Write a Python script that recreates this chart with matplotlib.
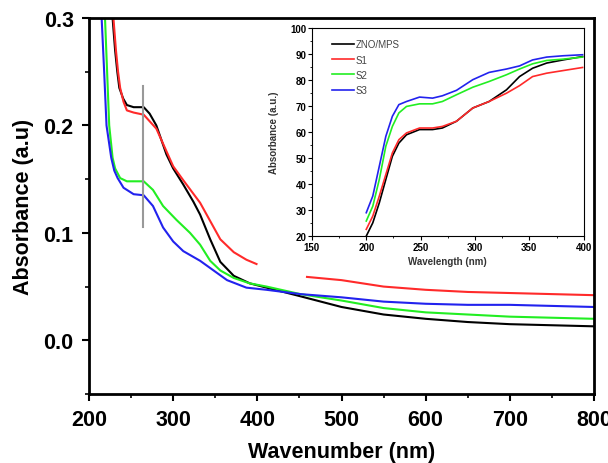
import numpy as np
import matplotlib.pyplot as plt
from matplotlib.ticker import MultipleLocator

plt.rcParams['font.family'] = ['Liberation Sans', 'DejaVu Sans']

# main spectra (nm, absorbance)
wl_black = [228, 231, 233.6, 236, 240.6, 245, 253, 265, 272, 280, 292, 300, 312, 324, 332,
            344, 356, 372, 391, 411, 451, 500, 550, 600, 650, 700, 750, 800]
ab_black = [0.30, 0.27, 0.25, 0.235, 0.225, 0.219, 0.217, 0.217, 0.211, 0.200, 0.173, 0.160,
            0.145, 0.129, 0.117, 0.094, 0.073, 0.060, 0.053, 0.049, 0.041, 0.031, 0.024,
            0.020, 0.017, 0.015, 0.014, 0.013]

wl_red = [229, 232, 234.5, 237, 241, 245, 253, 265, 280, 300, 312, 332, 344, 356, 372, 387,
          399, 430, 459, 500, 550, 600, 650, 700, 750, 800]
ab_red = [0.30, 0.27, 0.25, 0.235, 0.222, 0.214, 0.212, 0.210, 0.197, 0.162, 0.149, 0.128,
          0.111, 0.094, 0.082, 0.075, 0.071, np.nan, 0.059, 0.056, 0.050, 0.047, 0.045,
          0.044, 0.043, 0.042]

wl_green = [219, 221.5, 224, 228, 231, 237, 245, 265, 276, 288, 304, 320, 332, 344, 356, 372,
            391, 411, 451, 500, 550, 600, 650, 700, 750, 800]
ab_green = [0.30, 0.25, 0.20, 0.17, 0.16, 0.151, 0.148, 0.148, 0.140, 0.125, 0.112, 0.100,
            0.089, 0.074, 0.065, 0.058, 0.053, 0.050, 0.043, 0.037, 0.030, 0.026, 0.024,
            0.022, 0.021, 0.020]

wl_blue = [215, 218, 220.8, 226.4, 230, 234, 241, 253, 265, 276, 288, 300, 312, 332, 348, 364,
           387, 411, 451, 500, 550, 600, 650, 700, 750, 800]
ab_blue = [0.30, 0.25, 0.20, 0.17, 0.158, 0.151, 0.142, 0.136, 0.135, 0.125, 0.105, 0.092,
           0.083, 0.074, 0.065, 0.056, 0.049, 0.047, 0.043, 0.040, 0.036, 0.034, 0.033, 0.033,
           0.032, 0.031]

# inset spectra
wl_in = [200, 206, 212, 218, 224, 230, 237, 249, 261, 270, 283, 298, 313, 329, 341, 353,
         366, 381, 399]
in_black = [20.0, 25.1, 32.8, 41.8, 50.7, 55.8, 59.0, 61.0, 61.0, 61.6, 64.2, 69.3, 71.8,
            76.3, 81.4, 84.6, 86.6, 87.8, 89.1]
in_red = [22.6, 27.7, 35.4, 43.7, 52.0, 57.1, 59.7, 61.6, 61.6, 62.2, 64.2, 69.3, 71.8,
          75.0, 77.9, 81.4, 82.7, 83.7, 84.9]
in_green = [25.8, 31.5, 41.8, 54.6, 62.2, 67.4, 69.9, 70.9, 70.9, 71.8, 74.4, 77.3, 79.5,
            82.1, 84.3, 86.3, 87.6, 88.1, 88.9]
in_blue = [29.0, 35.4, 46.9, 58.4, 66.1, 70.6, 71.8, 73.5, 73.1, 74.0, 76.1, 80.2, 83.0,
           84.3, 85.5, 87.8, 88.9, 89.4, 89.8]

c_black, c_red, c_green, c_blue = 'black', '#ff2a2a', '#22ee22', '#2222ee'

fig = plt.figure(figsize=(6.08, 4.64), dpi=100)
ax = fig.add_axes([0.1464, 0.1487, 0.8306, 0.8103])

ax.plot(wl_black, ab_black, color=c_black, lw=1.5)
ax.plot(wl_red, ab_red, color=c_red, lw=1.5)
ax.plot(wl_green, ab_green, color=c_green, lw=1.5)
ax.plot(wl_blue, ab_blue, color=c_blue, lw=1.5)
ax.plot([264, 264], [0.105, 0.237], color='#999999', lw=1.5)

ax.set_xlim(200, 800)
ax.set_ylim(-0.05, 0.3)
ax.set_xticks([200, 300, 400, 500, 600, 700, 800])
ax.set_yticks([0.0, 0.1, 0.2, 0.3])
ax.xaxis.set_minor_locator(MultipleLocator(50))
ax.yaxis.set_minor_locator(MultipleLocator(0.05))
ax.tick_params(which='major', direction='out', length=5, width=1.5, labelsize=15.5, pad=6)
ax.tick_params(which='minor', direction='out', length=3, width=1.2)
for lab in ax.get_xticklabels() + ax.get_yticklabels():
    lab.set_fontweight('bold')
for s in ax.spines.values():
    s.set_linewidth(2)
ax.set_xlabel('Wavenumber (nm)', fontsize=15.5, fontweight='bold', labelpad=8)
ax.set_ylabel('Absorbance (a.u)', fontsize=15.5, fontweight='bold', labelpad=7)

# inset
ins = fig.add_axes([0.513, 0.489, 0.447, 0.448])
ins.plot(wl_in, in_black, color=c_black, lw=1.2, label='ZNO/MPS')
ins.plot(wl_in, in_red, color=c_red, lw=1.2, label='S1')
ins.plot(wl_in, in_green, color=c_green, lw=1.2, label='S2')
ins.plot(wl_in, in_blue, color=c_blue, lw=1.2, label='S3')
ins.set_xlim(150, 400)
ins.set_ylim(20, 100)
ins.set_xticks([150, 200, 250, 300, 350, 400])
ins.set_yticks(range(20, 101, 10))
ins.xaxis.set_minor_locator(MultipleLocator(25))
ins.yaxis.set_minor_locator(MultipleLocator(5))
ins.tick_params(which='major', direction='out', length=3, width=0.8, labelsize=7, pad=1)
ins.tick_params(which='minor', direction='out', length=1.5, width=0.6)
for lab in ins.get_xticklabels() + ins.get_yticklabels():
    lab.set_fontweight('bold')
for s in ins.spines.values():
    s.set_linewidth(0.8)
ins.set_xlabel('Wavelength (nm)', fontsize=7, fontweight='bold', color='#333333', labelpad=3)
ins.set_ylabel('Absorbance (a.u.)', fontsize=7, fontweight='bold', color='#333333', labelpad=8)
leg = ins.legend(loc='upper left', frameon=False, fontsize=7, handlelength=2.2,
                 handletextpad=0.2, labelspacing=0.55, borderaxespad=0.3,
                 bbox_to_anchor=(0.05, 0.98))
for t in leg.get_texts():
    t.set_color('#444444')

fig.savefig('out.png', dpi=100)
